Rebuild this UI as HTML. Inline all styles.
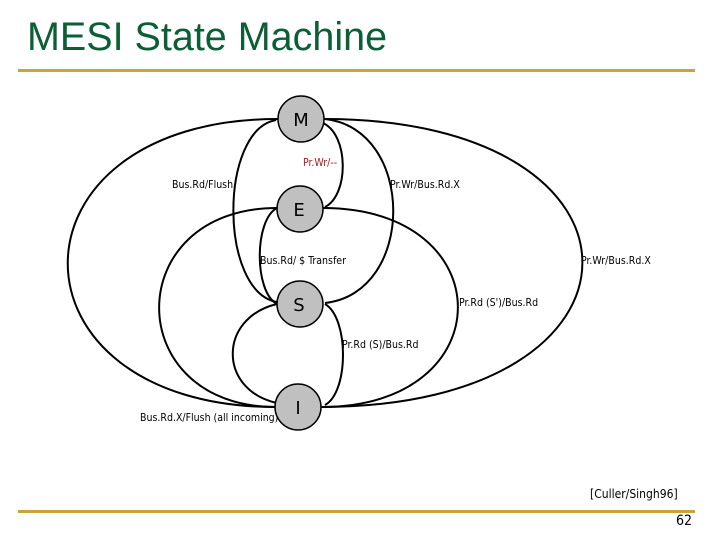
<!DOCTYPE html>
<html><head><meta charset="utf-8"><style>
body{margin:0;width:720px;height:540px;background:#fff;overflow:hidden;position:relative;font-family:"Liberation Sans",sans-serif}
.t{position:absolute;left:27px;top:15px;font-size:39.5px;color:#0b5e35;white-space:nowrap}
.l{position:absolute;background:#c9a43a;height:3px}
.s{position:absolute;font-size:10.5px;color:#000;white-space:nowrap;font-family:"DejaVu Sans Condensed","DejaVu Sans",sans-serif}
</style></head><body>
<div class="t">MESI State Machine</div>
<div class="l" style="left:18px;top:69px;width:677px"></div>
<div class="l" style="left:18px;top:510px;width:677px"></div>
<svg width="720" height="540" style="position:absolute;left:0;top:0" fill="none" stroke="#000" stroke-width="2">
<path d="M278,119 C-2,119 -2,407 276,407"/>
<path d="M324,119 C669,119 669,407 321,407"/>
<path d="M277,208 C120,208 120,407 276,407"/>
<path d="M323,208 C503,208 503,407 322,407"/>
<path d="M276,120 C219,130 219,292 277,302"/>
<path d="M325,119 C416,129 416,293 325,303"/>
<path d="M323,123 C349,135 349,195 325,207"/>
<path d="M277,208 C254,220 254,292 277,304"/>
<path d="M277,304 C218,318 218,390 277,403"/>
<path d="M325,304 C349,318 349,392 325,405"/>
<g fill="#c0c0c0" stroke="#000" stroke-width="1.5">
<circle cx="301" cy="119" r="23"/><circle cx="300" cy="209" r="23"/>
<circle cx="300" cy="304" r="23"/><circle cx="298" cy="407" r="23"/>
</g>
<g fill="#000" stroke="none" font-family="DejaVu Sans, sans-serif" font-size="18" text-anchor="middle">
<text x="301" y="126">M</text><text x="299" y="216">E</text><text x="299" y="311">S</text><text x="298" y="414">I</text>
</g>
</svg>
<div class="s" style="left:303px;top:157px;color:#a02020">Pr.Wr/--</div>
<div class="s" style="left:172px;top:179px">Bus.Rd/Flush</div>
<div class="s" style="left:390px;top:179px">Pr.Wr/Bus.Rd.X</div>
<div class="s" style="left:260px;top:255px">Bus.Rd/ $ Transfer</div>
<div class="s" style="left:581px;top:255px">Pr.Wr/Bus.Rd.X</div>
<div class="s" style="left:459px;top:297px">Pr.Rd (S')/Bus.Rd</div>
<div class="s" style="left:342px;top:339px">Pr.Rd (S)/Bus.Rd</div>
<div class="s" style="left:140px;top:412px">Bus.Rd.X/Flush (all incoming)</div>
<div class="s" style="left:590px;top:487px;font-size:12px">[Culler/Singh96]</div>
<div class="s" style="left:676px;top:513px;font-size:14px">62</div>
</body></html>
